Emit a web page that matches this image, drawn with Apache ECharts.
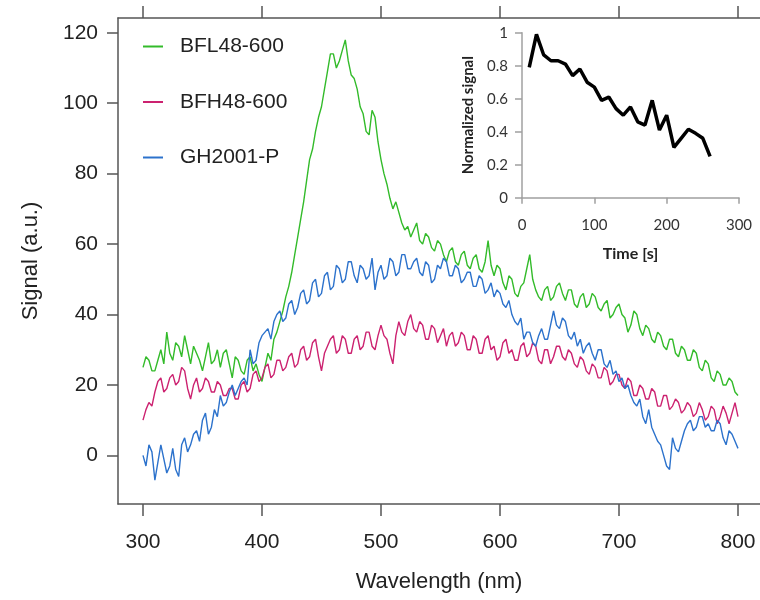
<!DOCTYPE html>
<html><head><meta charset="utf-8">
<script src="https://cdn.jsdelivr.net/npm/echarts@6/dist/echarts.min.js"></script>
<style>html,body{margin:0;padding:0;background:#fff}#c{width:760px;height:600px}</style>
</head><body><div id="c"></div>
<script>
const wavelengths = [
300,302.5,305,307.5,310,312.5,315,317.5,320,322.5,325,327.5,330,332.5,335,337.5,340,342.5,345,347.5,
350,352.5,355,357.5,360,362.5,365,367.5,370,372.5,375,377.5,380,382.5,385,387.5,390,392.5,395,397.5,
400,402.5,405,407.5,410,412.5,415,417.5,420,422.5,425,427.5,430,432.5,435,437.5,440,442.5,445,447.5,
450,452.5,455,457.5,460,462.5,465,467.5,470,472.5,475,477.5,480,482.5,485,487.5,490,492.5,495,497.5,
500,502.5,505,507.5,510,512.5,515,517.5,520,522.5,525,527.5,530,532.5,535,537.5,540,542.5,545,547.5,
550,552.5,555,557.5,560,562.5,565,567.5,570,572.5,575,577.5,580,582.5,585,587.5,590,592.5,595,597.5,
600,602.5,605,607.5,610,612.5,615,617.5,620,622.5,625,627.5,630,632.5,635,637.5,640,642.5,645,647.5,
650,652.5,655,657.5,660,662.5,665,667.5,670,672.5,675,677.5,680,682.5,685,687.5,690,692.5,695,697.5,
700,702.5,705,707.5,710,712.5,715,717.5,720,722.5,725,727.5,730,732.5,735,737.5,740,742.5,745,747.5,
750,752.5,755,757.5,760,762.5,765,767.5,770,772.5,775,777.5,780,782.5,785,787.5,790,792.5,795,797.5,
800];
const bfl48 = [
25,28,27,24,24,27,30,26,35,29,27,32,31,28,34,30,26,31,29,27,
24,28,32,26,27,30,25,29,30,26,22,28,27,24,23,27,28,24,26,23,
21,25,29,27,33,35,38,41,45,48,52,57,62,67,72,78,84,87,92,96,
99,104,109,114,114,110,112,115,118,112,108,107,104,99,97,92,91,98,96,89,
84,80,77,73,70,72,69,66,64,65,62,64,66,61,60,63,62,59,58,61,
60,57,55,58,59,55,54,57,58,54,53,56,57,53,52,55,61,54,51,54,
53,49,47,51,50,46,45,48,49,53,57,50,47,45,44,47,48,44,45,48,
49,46,44,47,47,43,42,45,46,42,43,46,45,42,41,43,44,39,40,42,
43,40,39,35,37,41,40,36,34,37,36,33,32,35,34,31,30,33,33,29,
28,31,30,27,27,30,29,25,24,27,26,22,21,24,23,20,20,22,21,18,
17];
const bfh48 = [
10,13,15,14,18,21,22,18,19,22,23,20,21,25,24,19,16,20,22,18,
19,22,21,18,18,21,20,17,17,19,19,16,16,20,21,18,19,23,24,21,
22,25,26,22,23,27,27,24,25,28,29,25,26,30,31,27,28,32,33,28,
24,29,31,33,34,29,30,34,33,29,29,33,34,30,31,35,35,31,30,34,
37,34,33,29,26,34,38,35,34,38,40,36,35,38,37,33,33,37,36,32,
34,36,31,34,35,31,32,35,34,30,30,34,33,29,29,33,34,30,31,27,
28,32,33,29,30,27,27,31,32,28,29,32,31,27,26,30,30,26,28,31,
31,28,27,30,29,26,25,28,27,24,23,26,25,22,22,25,24,20,21,23,
23,20,19,22,21,17,17,20,19,16,16,19,18,14,14,17,17,13,14,16,
15,12,13,15,14,11,12,15,13,10,11,14,13,9,11,14,12,9,12,15,
11];
const gh2001 = [
0,-3,3,1,-7,-2,3,-1,-5,-3,2,-4,-6,3,5,1,3,6,7,4,
10,12,6,8,13,11,17,14,15,18,20,17,19,21,22,20,30,26,27,32,
34,35,36,33,38,40,41,38,39,43,44,40,42,46,47,43,44,49,50,45,
46,51,52,47,48,54,53,49,50,55,55,51,49,54,53,50,51,56,47,52,
54,50,51,56,55,51,52,57,57,53,53,55,56,52,51,55,54,49,50,54,
53,56,55,51,51,54,53,49,50,52,52,48,48,51,50,46,47,49,45,47,
46,43,42,44,40,38,37,39,33,35,35,32,31,34,36,33,33,37,41,37,
36,39,38,34,33,35,31,33,29,31,32,29,27,30,30,26,25,27,23,24,
21,22,19,20,17,15,14,16,11,9,13,8,6,4,3,0,-3,-4,5,2,
1,4,7,9,10,7,8,11,11,8,9,7,7,10,9,5,3,7,6,4,
2];
const seriesNames = ['BFL48-600','BFH48-600','GH2001-P'];
const xTicks = [300,400,500,600,700,800];
const yTicks = [0,20,40,60,80,100,120];
const insetTime = [10,20,30,40,50,60,70,80,90,100,110,120,130,140,150,160,170,180,190,200,210,220,230,240,250,260];
const insetSignal = [0.79,0.99,0.865,0.83,0.83,0.81,0.74,0.78,0.70,0.67,0.59,0.61,0.54,0.50,0.55,0.46,0.44,0.59,0.41,0.50,0.305,0.36,0.415,0.39,0.36,0.25];

const pair = (xs, ys) => xs.map((x, i) => [x, ys[i]]);
const chart = echarts.init(document.getElementById('c'), null, {renderer: 'canvas'});
const mainFont = 'Liberation Sans, Arial, sans-serif';
const insetFont = 'Lato, Open Sans, sans-serif';
const axisCol = '#555';
const insetAxisCol = '#a0a0a0';
chart.setOption({
  animation: false,
  backgroundColor: '#fff',
  color: ['#33bb2a', '#cc2270', '#2c72cc'],
  legend: {
    orient: 'vertical', left: 143, top: 34.5, padding: 0, itemWidth: 20, itemHeight: 2, itemGap: 31.5,
    icon: 'rect', data: seriesNames,
    textStyle: {fontFamily: mainFont, fontSize: 21, color: '#222', lineHeight: 24, padding: [0,0,0,12]}
  },
  grid: [
    {left: 118, top: 18, right: 0, bottom: 96, containLabel: false},
    {left: 522, top: 32.7, width: 217, height: 165, containLabel: false}
  ],
  xAxis: [
    {type: 'value', gridIndex: 0, min: 279, max: 818.5, position: 'bottom',
     name: 'Wavelength (nm)', nameLocation: 'middle', nameGap: 67,
     nameTextStyle: {fontFamily: mainFont, fontSize: 22, color: '#222'},
     axisLine: {onZero: false, lineStyle: {color: axisCol, width: 1.5}},
     axisTick: {customValues: xTicks, length: 12, lineStyle: {color: axisCol, width: 1.5}},
     axisLabel: {customValues: xTicks, margin: 28, fontFamily: mainFont, fontSize: 21, color: '#222'},
     splitLine: {show: false}},
    {type: 'value', gridIndex: 0, min: 279, max: 818.5, position: 'top',
     axisLine: {onZero: false, lineStyle: {color: axisCol, width: 1.5}},
     axisTick: {customValues: xTicks, length: 12, lineStyle: {color: axisCol, width: 1.5}},
     axisLabel: {show: false}, splitLine: {show: false}},
    {type: 'value', gridIndex: 1, min: 0, max: 300, interval: 100,
     name: 'Time [s]', nameLocation: 'middle', nameGap: 48,
     nameTextStyle: {fontFamily: insetFont, fontSize: 16, fontWeight: 'bold', color: '#222'},
     axisLine: {onZero: false, lineStyle: {color: insetAxisCol, width: 1.5}},
     axisTick: {length: 6, lineStyle: {color: insetAxisCol, width: 1.5}},
     axisLabel: {margin: 20, fontFamily: insetFont, fontSize: 15, color: '#333'},
     splitLine: {show: false}}
  ],
  yAxis: [
    {type: 'value', gridIndex: 0, min: -13.8, max: 124.2,
     name: 'Signal (a.u.)', nameLocation: 'middle', nameGap: 76,
     nameTextStyle: {fontFamily: mainFont, fontSize: 22, color: '#222'},
     axisLine: {show: true, onZero: false, lineStyle: {color: axisCol, width: 1.5}},
     axisTick: {show: true, customValues: yTicks, length: 11, lineStyle: {color: axisCol, width: 1.5}},
     axisLabel: {customValues: yTicks, margin: 20, fontFamily: mainFont, fontSize: 21, color: '#222'},
     splitLine: {show: false}},
    {type: 'value', gridIndex: 1, min: 0, max: 1, interval: 0.2,
     name: 'Normalized signal', nameLocation: 'middle', nameGap: 46,
     nameTextStyle: {fontFamily: insetFont, fontSize: 15, fontWeight: 'bold', color: '#222'},
     axisLine: {show: true, onZero: false, lineStyle: {color: insetAxisCol, width: 1.5}},
     axisTick: {show: true, length: 7, lineStyle: {color: insetAxisCol, width: 1.5}},
     axisLabel: {margin: 14, fontFamily: insetFont, fontSize: 15, color: '#333'},
     splitLine: {show: false}}
  ],
  series: [
    {name: seriesNames[0], type: 'line', xAxisIndex: 0, yAxisIndex: 0, showSymbol: false, symbol: 'none',
     lineStyle: {width: 1.4}, data: pair(wavelengths, bfl48)},
    {name: seriesNames[1], type: 'line', xAxisIndex: 0, yAxisIndex: 0, showSymbol: false, symbol: 'none',
     lineStyle: {width: 1.4}, data: pair(wavelengths, bfh48)},
    {name: seriesNames[2], type: 'line', xAxisIndex: 0, yAxisIndex: 0, showSymbol: false, symbol: 'none',
     lineStyle: {width: 1.4}, data: pair(wavelengths, gh2001)},
    {name: 'inset', type: 'line', xAxisIndex: 2, yAxisIndex: 1, showSymbol: false, symbol: 'none',
     lineStyle: {width: 3.5, color: '#000'}, itemStyle: {color: '#000'}, data: pair(insetTime, insetSignal)}
  ]
});
</script></body></html>
